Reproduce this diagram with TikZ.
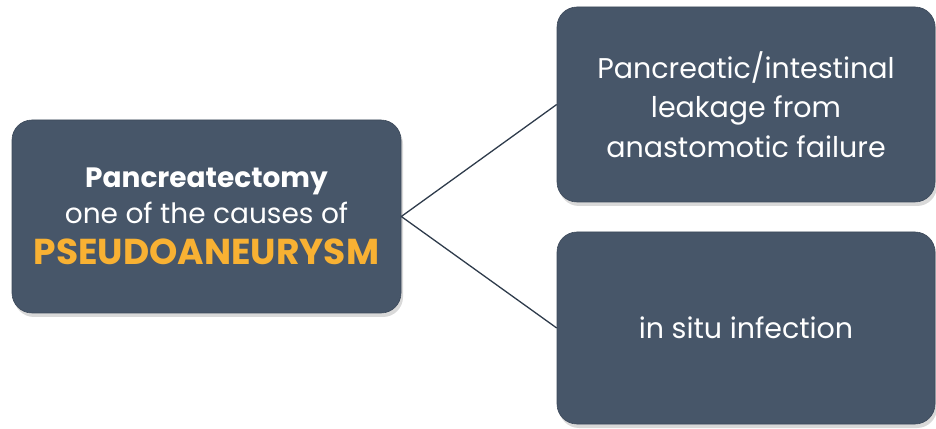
\documentclass[tikz,border=0pt]{standalone}
\usepackage{fontspec}
\setmainfont{Poppins}
\usetikzlibrary{shadows}
\definecolor{boxfill}{RGB}{71,86,105}
\definecolor{boxedge}{RGB}{60,73,90}
\definecolor{gold}{RGB}{248,177,51}
\definecolor{linec}{RGB}{46,59,75}
\begin{document}
\begin{tikzpicture}[x=1pt,y=1pt]
\useasboundingbox (0,0) rectangle (936,428);
\tikzset{
  box/.style={rounded corners=20pt, fill=boxfill, draw=boxedge, line width=0.6pt,
    drop shadow={opacity=0.3, shadow xshift=2pt, shadow yshift=-4pt},
    align=center, text=white, inner sep=0pt},
  conn/.style={draw=linec, line width=1.3pt}
}
\node[box, minimum width=389pt, minimum height=193pt,
  font=\fontsize{28}{36}\selectfont] (main) at (206.5,211.5)
  {{\bfseries Pancreatectomy}\\ one of the causes of\\[5pt]
   {\color{gold}\fontsize{36}{36}\selectfont\bfseries PSEUDOANEURYSM}};
\node[box, minimum width=378pt, minimum height=195pt,
  font=\fontsize{28.5}{39.5}\selectfont] (top) at (746,323.5)
  {Pancreatic/intestinal\\ leakage from\\ anastomotic failure};
\node[box, minimum width=378pt, minimum height=192pt,
  font=\fontsize{28.5}{39.5}\selectfont] (bot) at (746,100)
  {in situ infection};
\draw[conn] (main.east) -- (top.west);
\draw[conn] (main.east) -- (bot.west);
\end{tikzpicture}
\end{document}
